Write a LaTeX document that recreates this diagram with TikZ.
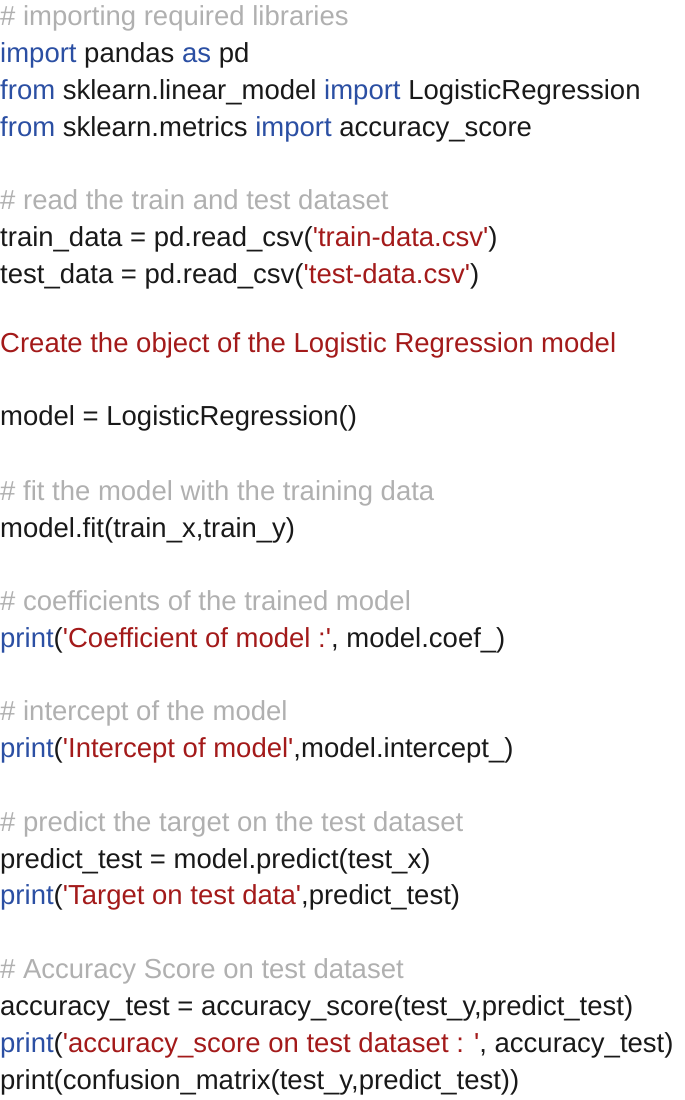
\documentclass[tikz,border=0pt]{standalone}
\usepackage{fontspec}
\setmainfont{Liberation Sans}[Ligatures=TeXOff]
\definecolor{cm}{HTML}{B0B0B0}
\definecolor{kw}{HTML}{2B4FA3}
\definecolor{st}{HTML}{A31A1A}
\newcommand{\q}{{\char39}}
\newcommand{\Kw}[1]{\textcolor{kw}{#1}}
\newcommand{\Str}[1]{\textcolor{st}{#1}}
\tikzset{ln/.style={anchor=base west,inner sep=0pt,font=\fontsize{27.5}{30}\selectfont,text=black!90}}
\begin{document}
\begin{tikzpicture}[x=1pt,y=-1pt]
\useasboundingbox (0,0) rectangle (685,1100);
\node[ln,text=cm] (l1) at (0,25) {\# importing required libraries};
\node[ln] (l2) at (0,62) {\Kw{import} pandas \Kw{as} pd};
\node[ln] (l3) at (0,99) {\Kw{from} sklearn.linear\_model \Kw{import} LogisticRegression};
\node[ln] (l4) at (0,136) {\Kw{from} sklearn.metrics \Kw{import} accuracy\_score};
\node[ln,text=cm] (l5) at (0,209) {\# read the train and test dataset};
\node[ln] (l6) at (0,246) {train\_data = pd.read\_csv(\Str{\q train-data.csv\q})};
\node[ln] (l7) at (0,283) {test\_data = pd.read\_csv(\Str{\q test-data.csv\q})};
\node[ln,text=st] (l8) at (0,352) {Create the object of the Logistic Regression model};
\node[ln] (l9) at (0,425) {model = LogisticRegression()};
\node[ln,text=cm] (l10) at (0,500) {\# fit the model with the training data};
\node[ln] (l11) at (0,537) {model.fit(train\_x,train\_y)};
\node[ln,text=cm] (l12) at (0,610) {\# coefficients of the trained model};
\node[ln] (l13) at (0,647) {\Kw{print}(\Str{\q Coefficient of model :\q}, model.coef\_)};
\node[ln,text=cm] (l14) at (0,720) {\# intercept of the model};
\node[ln] (l15) at (0,757) {\Kw{print}(\Str{\q Intercept of model\q},model.intercept\_)};
\node[ln,text=cm] (l16) at (0,831) {\# predict the target on the test dataset};
\node[ln] (l17) at (0,868) {predict\_test = model.predict(test\_x)};
\node[ln] (l18) at (0,904) {\Kw{print}(\Str{\q Target on test data\q},predict\_test)};
\node[ln,text=cm] (l19) at (0,978) {\# Accuracy Score on test dataset};
\node[ln] (l20) at (0,1015) {accuracy\_test = accuracy\_score(test\_y,predict\_test)};
\node[ln] (l21) at (0,1052) {\Kw{print}(\Str{\q accuracy\_score on test dataset : \q}, accuracy\_test)};
\node[ln] (l22) at (0,1089) {print(confusion\_matrix(test\_y,predict\_test))};
\end{tikzpicture}
\end{document}
